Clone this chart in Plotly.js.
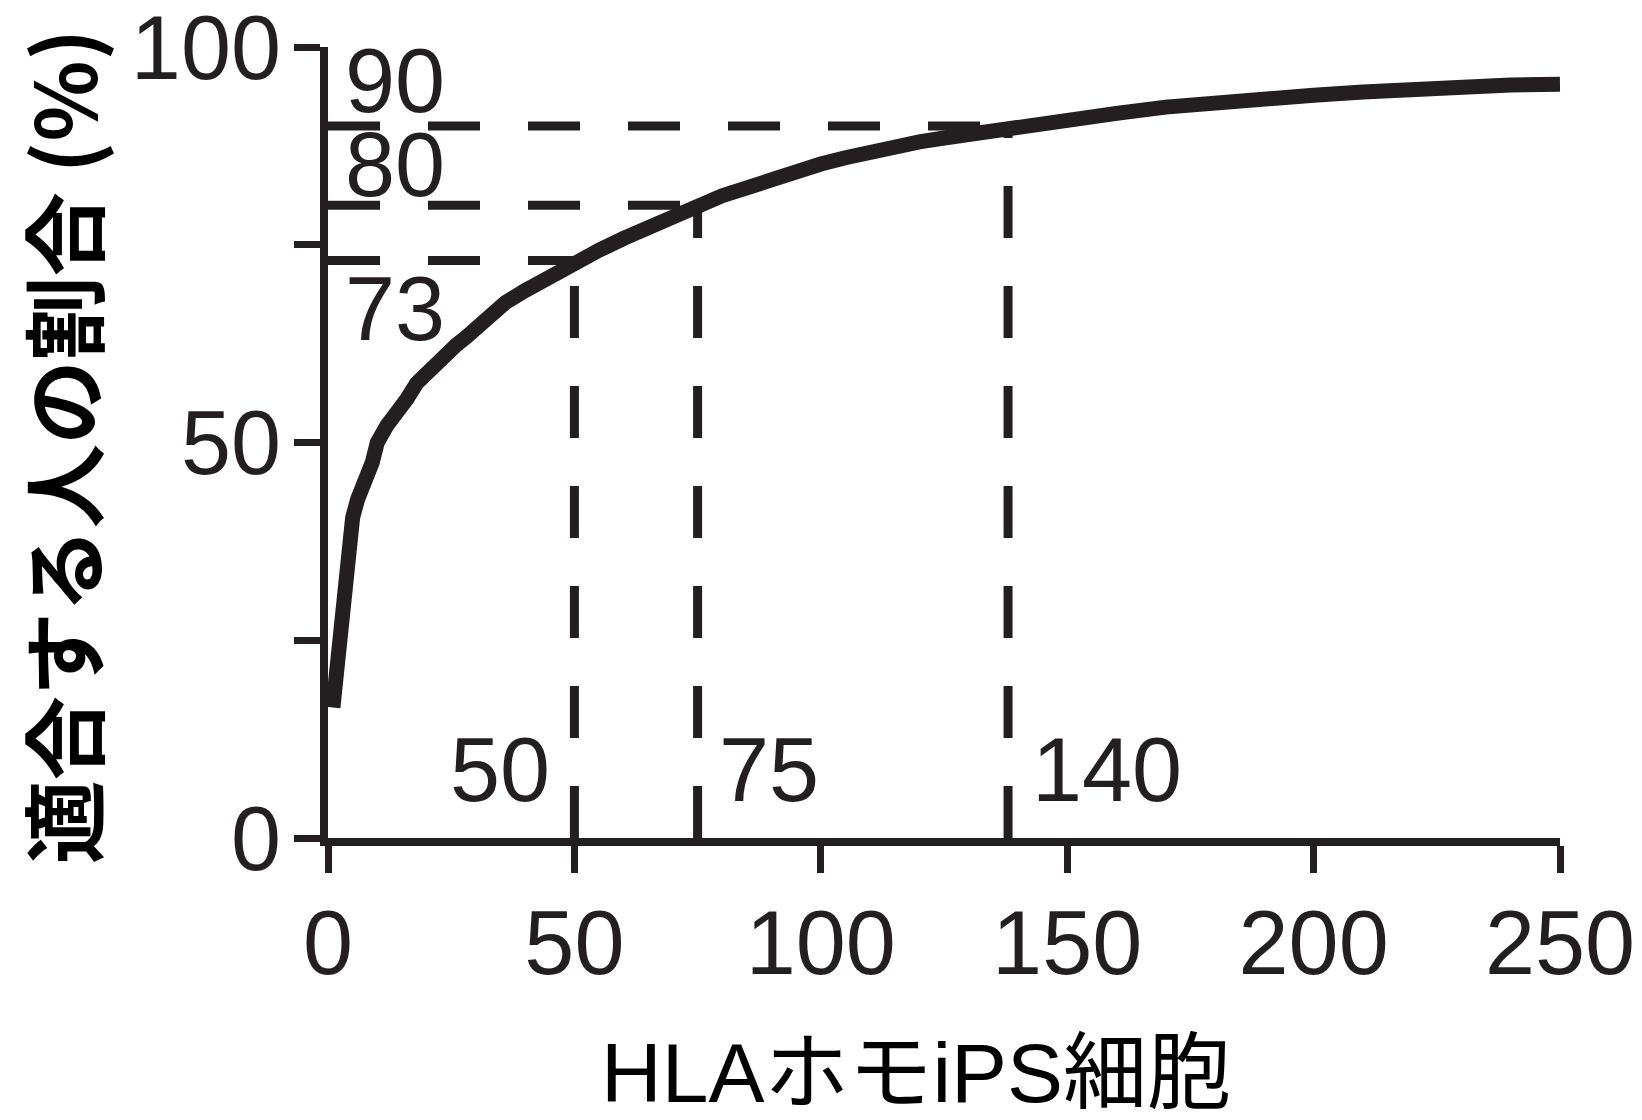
<!DOCTYPE html>
<html>
<head>
<meta charset="utf-8">
<script src="https://cdn.plot.ly/plotly-3.0.1.min.js"></script>
<style>html,body{margin:0;padding:0;background:#fff;}#chart{width:1642px;height:1120px;}</style>
</head>
<body>
<div id="chart"></div>
<script>
// Number of HLA homozygous iPS cell lines
const cellLines = [1,2,3,4,5,6,7,8,9,10,11,12,13,14,15,16,18,20,22,24,26,28,30,33,36,40,45,50,55,60,65,70,75,80,85,90,95,100,105,110,115,120,125,130,135,140,145,150,160,170,180,190,200,210,220,230,240,250];
// Percentage of people matched (%)
const matchedPct = [16.5,22,30,36.5,40.5,42.8,44.3,45.6,47.5,50,51.5,52.2,53,53.7,54.5,55.5,57.5,58.8,60.2,61.3,62.3,63.3,64.4,66.2,67.7,69.2,71,72.7,74.3,75.8,77.2,78.4,79.6,81.2,82.2,83.3,84.3,85.2,86,86.8,87.4,88,88.5,89,89.4,89.8,90.3,90.7,91.6,92.4,93,93.4,93.9,94.3,94.7,95,95.2,95.3];

// Highlighted thresholds: labelled line counts -> coverage
const thresholdLabels = [50, 75, 140];
const thresholdLineX = [50, 75, 138];   // where the dashed guides are drawn in the figure
const thresholdPct = [73, 80, 90];

const xTicks = [0, 50, 100, 150, 200, 250];
const yTicks = [0, 25, 50, 75, 100];
const yTickText = ['0', '', '50', '', '100'];

const xTitle = 'HLAホモiPS細胞';
const yTitle = '適合する人の割合 (%)';

const ink = '#231f20';
const numFont = {family: 'Liberation Sans, Arial, sans-serif', size: 90, color: ink};
const dashStyle = {color: ink, width: 9, dash: '52px,48px'};

const traces = [];
thresholdLineX.forEach((xv, i) => {
  const yv = thresholdPct[i];
  traces.push({x: [0, xv], y: [yv, yv], mode: 'lines', type: 'scatter',
    line: dashStyle, hoverinfo: 'skip', showlegend: false, cliponaxis: false});
  traces.push({x: [xv, xv], y: [0, yv], mode: 'lines', type: 'scatter',
    line: dashStyle, hoverinfo: 'skip', showlegend: false, cliponaxis: false});
});
traces.push({x: cellLines, y: matchedPct, mode: 'lines', type: 'scatter',
  line: {color: ink, width: 15}, showlegend: false, cliponaxis: false});

const annotations = [];
// coverage labels near the y axis
const yLabelPos = [66.9, 85.1, 95.7];
thresholdPct.forEach((v, i) => {
  annotations.push({x: 3, y: yLabelPos[i], xref: 'x', yref: 'y', text: String(v), showarrow: false,
    xanchor: 'left', yanchor: 'middle', font: numFont});
});
// line-count labels near the x axis
const xLabelX = [45.5, 79, 142.5];
const xLabelAnchor = ['right', 'left', 'left'];
thresholdLabels.forEach((v, i) => {
  annotations.push({x: xLabelX[i], y: 8.6, xref: 'x', yref: 'y', text: String(v), showarrow: false,
    xanchor: xLabelAnchor[i], yanchor: 'middle', font: numFont});
});
annotations.push({x: 0.477, y: -0.297, xref: 'paper', yref: 'paper', text: xTitle, showarrow: false,
  xanchor: 'center', yanchor: 'middle',
  font: {family: 'Liberation Sans, Noto Sans CJK JP, sans-serif', size: 84, color: '#000'}});
annotations.push({x: -0.2175, y: 0.494, xref: 'paper', yref: 'paper', text: yTitle, showarrow: false,
  textangle: -90, xanchor: 'center', yanchor: 'middle',
  font: {family: 'Noto Sans CJK JP, sans-serif', size: 84, color: '#000', weight: 'bold'}});

const layout = {
  width: 1642, height: 1120,
  margin: {l: 328, r: 82, t: 47, b: 282},
  paper_bgcolor: '#fff', plot_bgcolor: '#fff',
  showlegend: false,
  xaxis: {range: [0, 250], tickvals: xTicks, ticktext: xTicks.map(String), showgrid: false, zeroline: false,
    showline: true, linecolor: ink, linewidth: 8, ticks: 'outside', ticklen: 27, tickwidth: 7, tickcolor: ink,
    tickfont: numFont, ticklabelstandoff: -7, ticklabeloverflow: 'allow', fixedrange: true},
  yaxis: {range: [0, 100], tickvals: yTicks, ticktext: yTickText, showgrid: false, zeroline: false,
    showline: true, linecolor: ink, linewidth: 8, ticks: 'outside', ticklen: 26, tickwidth: 7, tickcolor: ink,
    tickfont: numFont, ticklabelstandoff: -5, ticklabeloverflow: 'allow', fixedrange: true},
  annotations: annotations
};

Plotly.newPlot('chart', traces, layout, {staticPlot: true, displayModeBar: false});
</script>
</body>
</html>
